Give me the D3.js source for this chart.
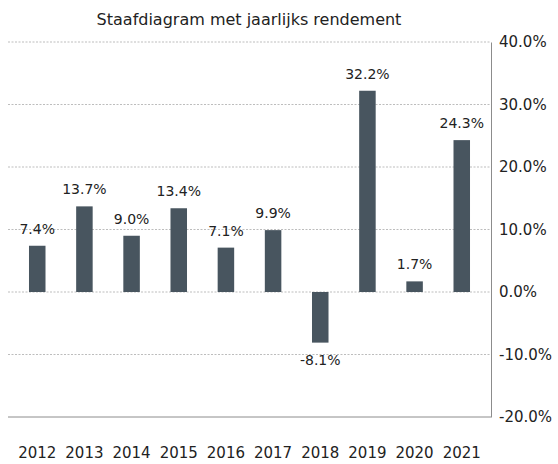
<!DOCTYPE html>
<html>
<head>
<meta charset="utf-8">
<script src="https://cdn.jsdelivr.net/npm/d3@7"></script>
<style>
  html, body { margin: 0; padding: 0; background: #fff; }
  svg { display: block; font-family: "DejaVu Sans", sans-serif; }
</style>
</head>
<body>
<svg id="chart" width="558" height="464"></svg>
<script>
// Annual returns per year (percent)
const years = ["2012", "2013", "2014", "2015", "2016", "2017", "2018", "2019", "2020", "2021"];
const returns = [7.4, 13.7, 9.0, 13.4, 7.1, 9.9, -8.1, 32.2, 1.7, 24.3];
const yTicks = [-20, -10, 0, 10, 20, 30, 40];
const title = "Staafdiagram met jaarlijks rendement";

const svg = d3.select("#chart");
const plotLeft = 8, plotRight = 491, plotTop = 42, plotBottom = 417;
const barColor = "#48555f";
const textColor = "#222";

const x = d3.scaleBand().domain(years).range([plotLeft, plotRight])
  .paddingInner(0.65).paddingOuter(0.445);
const y = d3.scaleLinear().domain([-20, 40]).range([plotBottom, plotTop]);

// Dotted gridlines
svg.append("g")
  .selectAll("line")
  .data(yTicks.filter(t => t > -20))
  .join("line")
  .attr("x1", plotLeft).attr("x2", plotRight)
  .attr("y1", d => y(d)).attr("y2", d => y(d))
  .attr("stroke", "#bdbdbd")
  .attr("stroke-width", 1)
  .attr("stroke-dasharray", "2,1.5");

// Bottom frame line
svg.append("line")
  .attr("x1", plotLeft).attr("x2", plotRight)
  .attr("y1", y(-20)).attr("y2", y(-20))
  .attr("stroke", "#8c8c8c").attr("stroke-width", 1);

// Right y axis
const yAxis = d3.axisRight(y)
  .tickValues(yTicks)
  .tickSize(0)
  .tickPadding(8)
  .tickFormat(d => d.toFixed(1) + "%");
const ya = svg.append("g").attr("transform", `translate(${plotRight},0)`).call(yAxis);
ya.select(".domain").attr("stroke", "#8c8c8c");
ya.selectAll("text").attr("fill", textColor).style("font-size", "15px")
  .style("font-family", "DejaVu Sans, sans-serif");

// Bottom x axis labels
const xAxis = d3.axisBottom(x).tickSize(0).tickPadding(0);
const xa = svg.append("g").attr("transform", `translate(0,447)`).call(xAxis);
xa.select(".domain").remove();
xa.selectAll("text").attr("fill", textColor).style("font-size", "15px")
  .style("font-family", "DejaVu Sans, sans-serif");

// Bars
const data = years.map((yr, i) => ({ year: yr, value: returns[i] }));
svg.append("g")
  .selectAll("rect")
  .data(data)
  .join("rect")
  .attr("x", d => x(d.year))
  .attr("width", x.bandwidth())
  .attr("y", d => y(Math.max(0, d.value)))
  .attr("height", d => Math.abs(y(d.value) - y(0)))
  .attr("fill", barColor);

// Value labels
svg.append("g")
  .selectAll("text")
  .data(data)
  .join("text")
  .attr("x", d => x(d.year) + x.bandwidth() / 2)
  .attr("y", d => d.value >= 0 ? y(d.value) - 12 : y(d.value) + 22)
  .attr("text-anchor", "middle")
  .attr("fill", textColor)
  .style("font-size", "14px")
  .text(d => d.value.toFixed(1) + "%");

// Title
svg.append("text")
  .attr("x", 249).attr("y", 25)
  .attr("text-anchor", "middle")
  .attr("fill", textColor)
  .style("font-size", "16px")
  .text(title);
</script>
</body>
</html>
